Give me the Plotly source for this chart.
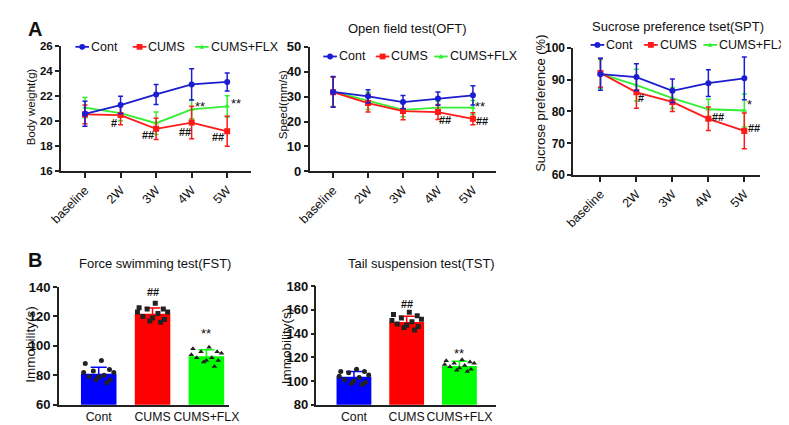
import plotly.graph_objects as go

W, H = 789, 425
FONT = "Liberation Sans, Arial, sans-serif"

# ---- data ----
weeks = ["baseline", "2W", "3W", "4W", "5W"]
groups = ["Cont", "CUMS", "CUMS+FLX"]

# body weight (g)
bw_cont = [20.6, 21.3, 22.15, 22.95, 23.15]
bw_cont_sd = [1.0, 0.7, 0.8, 1.25, 0.72]
bw_cums = [20.55, 20.5, 19.4, 19.9, 19.2]
bw_cums_sd = [0.75, 0.77, 0.85, 1.3, 1.2]
bw_flx = [21.1, 20.65, 19.85, 20.95, 21.2]
bw_flx_sd = [0.8, 0.6, 0.9, 0.75, 0.85]

# open field speed (mm/s)
oft_cont = [31.9, 30.1, 27.8, 29.2, 30.5]
oft_cont_sd = [6.2, 2.7, 2.6, 2.7, 3.9]
oft_cums = [31.8, 27.4, 24.2, 23.8, 21.1]
oft_cums_sd = [6.0, 3.6, 3.5, 3.0, 2.4]
oft_flx = [32.0, 28.3, 24.7, 25.6, 25.6]
oft_flx_sd = [6.0, 3.5, 2.8, 2.5, 2.8]

# sucrose preference (%)
spt_cont = [91.7, 90.8, 86.5, 88.9, 90.4]
spt_cont_sd = [5.0, 4.2, 3.7, 4.2, 6.7]
spt_cums = [92.1, 86.0, 83.0, 77.7, 73.9]
spt_cums_sd = [4.5, 5.0, 3.0, 3.7, 5.6]
spt_flx = [91.8, 88.3, 84.2, 80.7, 80.3]
spt_flx_sd = [4.5, 5.0, 3.3, 3.1, 5.2]

# forced swimming immobility (s)
fst_mean = [81.0, 121.8, 93.0]
fst_sd = [4.5, 4.0, 4.4]
fst_cont = [90, 88, 84, 83, 82, 82, 80, 79, 79, 77, 77, 75]
fst_cums = [129, 126, 125, 125, 123, 123, 122, 120, 119, 118, 117, 116]
fst_flx = [99, 98, 96, 96, 95, 94, 92, 92, 90, 90, 89, 86]

# tail suspension immobility (s)
tst_mean = [103.5, 149.8, 112.7]
tst_sd = [4.6, 4.8, 4.0]
tst_cont = [110, 108, 108, 107, 105, 104, 103, 101, 100, 99, 98, 97]
tst_cums = [158, 156, 155, 153, 152, 151, 150, 148, 147, 146, 145, 143]
tst_flx = [118, 117, 116, 115, 115, 114, 113, 112, 111, 110, 109, 108]

# ---- styles ----
LINE_STYLE = {
    "Cont": dict(color="#1c1cd0", symbol="circle", size=6),
    "CUMS": dict(color="#ff1a1a", symbol="square", size=6),
    "CUMS+FLX": dict(color="#33ee33", symbol="triangle-up", size=5),
}
BAR_COLOR = {"Cont": "#0000ff", "CUMS": "#ff0000", "CUMS+FLX": "#00ff00"}
DOT_SYMBOL = {"Cont": "circle", "CUMS": "square", "CUMS+FLX": "triangle-up"}
JITTER = [0.05, -0.25, 0.2, -0.1, 0.28, -0.28, 0.1, -0.18, 0.0, 0.22, -0.05, 0.15]


def px_x(p):
    return p / W


def px_y(p):
    return 1 - p / H


def ax_names(n):
    s = "" if n == 1 else str(n)
    return "x" + s, "y" + s


def mark_font(txt):
    # the # signs are a bit smaller than the stars in the original
    if "#" in txt:
        return dict(size=11, color="#111", weight="bold")
    return dict(size=13, color="#111")


fig = go.Figure()


def add_line_panel(n, series, marks):
    xa, ya = ax_names(n)
    xs = list(range(len(weeks)))
    for name, vals, sd in series[::-1]:
        st = LINE_STYLE[name]
        fig.add_trace(go.Scatter(
            x=xs, y=vals, name=name, mode="lines+markers",
            line=dict(color=st["color"], width=1.8),
            marker=dict(color=st["color"], symbol=st["symbol"], size=st["size"]),
            error_y=dict(type="data", array=sd, color=st["color"], thickness=1.5, width=2.5),
            xaxis=xa, yaxis=ya, showlegend=False,
        ))
    lookup = {name: vals for name, vals, sd in series}
    # significance marks tied to a data point, shifted in pixels
    for name, i, dx, dy, txt in marks:
        fig.add_annotation(x=i, y=lookup[name][i], xref=xa, yref=ya, text=txt,
                           showarrow=False, xshift=dx, yshift=dy, font=mark_font(txt))


def add_bar_panel(n, means, sds, dots, marks):
    xa, ya = ax_names(n)
    for i, name in enumerate(groups):
        fig.add_trace(go.Bar(
            x=[i], y=[means[i]], width=0.66, name=name,
            marker=dict(color=BAR_COLOR[name], line=dict(width=0)),
            error_y=dict(type="data", array=[sds[i]], color=BAR_COLOR[name], thickness=1.5, width=8),
            xaxis=xa, yaxis=ya, showlegend=False,
        ))
    for i, name in enumerate(groups):
        vals = dots[i]
        fig.add_trace(go.Scatter(
            x=[i + JITTER[k % len(JITTER)] for k in range(len(vals))], y=vals,
            mode="markers", marker=dict(color="#222", symbol=DOT_SYMBOL[name], size=5),
            xaxis=xa, yaxis=ya, showlegend=False,
        ))
    for i, dy, txt in marks:
        fig.add_annotation(x=i, y=means[i] + sds[i], xref=xa, yref=ya, text=txt,
                           showarrow=False, yshift=dy, font=mark_font(txt))


add_line_panel(1, [("Cont", bw_cont, bw_cont_sd), ("CUMS", bw_cums, bw_cums_sd),
                   ("CUMS+FLX", bw_flx, bw_flx_sd)],
               [("CUMS", 1, -7, -8, "#"), ("CUMS", 2, -8, -6, "##"), ("CUMS", 3, -7, -9, "##"),
                ("CUMS", 4, -9, -6, "##"), ("CUMS+FLX", 3, 8, 3, "**"), ("CUMS+FLX", 4, 9, 3, "**")])
add_line_panel(2, [("Cont", oft_cont, oft_cont_sd), ("CUMS", oft_cums, oft_cums_sd),
                   ("CUMS+FLX", oft_flx, oft_flx_sd)],
               [("CUMS", 3, 7, -8, "##"), ("CUMS", 4, 9, -2, "##"), ("CUMS+FLX", 4, 7, 1, "**")])
add_line_panel(3, [("Cont", spt_cont, spt_cont_sd), ("CUMS", spt_cums, spt_cums_sd),
                   ("CUMS+FLX", spt_flx, spt_flx_sd)],
               [("CUMS", 1, 5, -6, "#"), ("CUMS", 3, 10, 2, "##"), ("CUMS", 4, 10, 3, "##"),
                ("CUMS+FLX", 4, 5, 6, "*")])
add_bar_panel(4, fst_mean, fst_sd, [fst_cont, fst_cums, fst_flx], [(1, 16, "##"), (2, 16, "**")])
add_bar_panel(5, tst_mean, tst_sd, [tst_cont, tst_cums, tst_flx], [(1, 12, "##"), (2, 8, "**")])

# ---- axes ----
AXIS = dict(showline=True, linecolor="#222", linewidth=1.5, ticks="outside", ticklen=4,
            tickwidth=1.5, tickcolor="#222", showgrid=False, zeroline=False,
            tickfont=dict(size=12.5, color="#111"))

panels = [
    # n, x px, y px (bottom, top), x range, y range, dtick, labels, angle, ytick size
    (1, (42, 238), (162, 32.5), (-0.68, 4.68), (16, 26), 2, weeks, -45, 11.5),
    (2, (298, 490), (162, 33), (-0.67, 4.67), (0, 50), 10, weeks, -45, 13),
    (3, (569, 761), (166, 34), (-0.76, 4.43), (60, 100), 10, weeks, -45, 12),
    (4, (40, 215), (404, 282), (-0.74, 2.42), (60, 140), 20, groups, 0, 13),
    (5, (305, 490), (404, 281), (-0.71, 2.70), (80, 180), 20, groups, 0, 13),
]
layout = {}
for n, xp, yp, xr, yr, dt, labels, ang, ysz in panels:
    xa, ya = ax_names(n)
    xkey = "xaxis" if n == 1 else f"xaxis{n}"
    ykey = "yaxis" if n == 1 else f"yaxis{n}"
    xopt = dict(AXIS, domain=[px_x(xp[0]), px_x(xp[1])], range=list(xr), anchor=ya,
                tickmode="array", tickvals=list(range(len(labels))), ticktext=labels,
                tickangle=ang, fixedrange=True)
    if n >= 4:
        xopt.update(ticks="", tickfont=dict(size=12.3, color="#111"))
    else:
        xopt.update(ticklen=5)
    layout[xkey] = xopt
    layout[ykey] = dict(AXIS, domain=[px_y(yp[0]), px_y(yp[1])], range=list(yr), anchor=xa,
                        tick0=yr[0], dtick=dt, fixedrange=True,
                        tickfont=dict(size=ysz, color="#111", weight="bold"))

fig.update_layout(
    width=W, height=H, margin=dict(l=0, r=0, t=0, b=0),
    paper_bgcolor="white", plot_bgcolor="white",
    font=dict(family=FONT, color="#111"), showlegend=False, **layout,
)

# ---- texts: titles, axis titles, panel letters ----
texts = [
    ("Open field test(OFT)", 398, 14, 13, 0, False),
    ("Sucrose preference tset(SPT)", 677, 12, 13, 0, False),
    ("Force swimming test(FST)", 139, 258, 13, 0, False),
    ("Tail suspension test(TST)", 413, 258, 13, 0, False),
    ("Body weight(g)", 11, 95, 11.5, -90, False),
    ("Speed(mm/s)", 270, 93, 11.5, -90, False),
    ("Sucrose preference (%)", 536, 92, 13, -90, False),
    ("Immobility(s)", 11, 341, 13.5, -90, False),
    ("Immobility(s)", 275, 343, 13.5, -90, False),
    ("A", 15, 14, 20, 0, True),
    ("B", 15, 254, 20, 0, True),
]
for txt, x, y, size, angle, bold in texts:
    fig.add_annotation(text=f"<b>{txt}</b>" if bold else txt, x=px_x(x), y=px_y(y),
                       xref="paper", yref="paper", showarrow=False, textangle=angle,
                       xanchor="center", yanchor="middle", font=dict(size=size, color="#111"))


# ---- legends, drawn by hand so the keys stay short like the original ----
def add_key(starts, y_px):
    y = px_y(y_px)
    for name, x0 in zip(groups, starts):
        st = LINE_STYLE[name]
        c = st["color"]
        fig.add_shape(type="line", xref="paper", yref="paper", x0=px_x(x0), x1=px_x(x0 + 14),
                      y0=y, y1=y, line=dict(color=c, width=1.8))
        cx = x0 + 7
        if st["symbol"] == "circle":
            fig.add_shape(type="circle", xref="paper", yref="paper", x0=px_x(cx - 3), x1=px_x(cx + 3),
                          y0=px_y(y_px + 3), y1=px_y(y_px - 3), fillcolor=c, line=dict(width=0))
        elif st["symbol"] == "square":
            fig.add_shape(type="rect", xref="paper", yref="paper", x0=px_x(cx - 3), x1=px_x(cx + 3),
                          y0=px_y(y_px + 3), y1=px_y(y_px - 3), fillcolor=c, line=dict(width=0))
        else:
            path = (f"M {px_x(cx - 2.5)} {px_y(y_px + 2)} L {px_x(cx + 2.5)} {px_y(y_px + 2)} "
                    f"L {px_x(cx)} {px_y(y_px - 2.5)} Z")
            fig.add_shape(type="path", xref="paper", yref="paper", path=path, fillcolor=c,
                          line=dict(width=0))
        fig.add_annotation(text=name, x=px_x(x0 + 14), y=y, xref="paper", yref="paper",
                           xanchor="left", yanchor="middle", showarrow=False,
                           font=dict(size=12.5, color="#111"))


add_key([57, 116, 180], 33)
add_key([312, 366, 426], 43)
add_key([587, 642, 703], 31)

fig.write_html("out.html")
